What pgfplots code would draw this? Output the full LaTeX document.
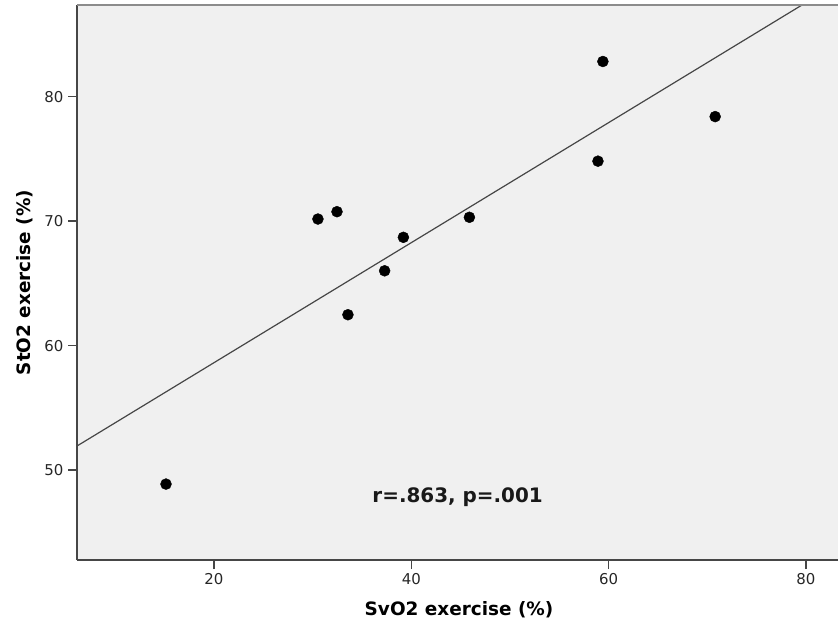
\documentclass[border=0pt]{standalone}
\usepackage{pgfplots}
\pgfplotsset{compat=1.18}
\usepackage{fontspec}
\setmainfont{DejaVu Sans}
\definecolor{plotbg}{RGB}{240,240,240}
\definecolor{axisgray}{RGB}{70,70,70}
\definecolor{topgray}{RGB}{140,140,140}
\begin{document}
\begin{tikzpicture}
  \useasboundingbox (0,0) rectangle (838bp,630bp);
  \begin{axis}[
    at={(77bp,70bp)}, anchor=south west,
    scale only axis,
    width=761bp, height=555bp,
    xmin=6.12, xmax=83.25,
    ymin=42.77, ymax=87.37,
    axis x line*=bottom, axis y line*=left,
    axis line style={axisgray, line width=1.3bp, -},
    axis background/.style={fill=plotbg},
    xtick={20,40,60,80}, ytick={50,60,70,80},
    tick align=outside,
    major tick length=9bp,
    tick style={axisgray, line width=1.3bp},
    /pgf/number format/assume math mode=true,
    tick label style={font=\fontsize{15}{17}\selectfont, text=black!85},
    xticklabel style={yshift=-1bp},
    yticklabel style={xshift=-1bp},
    xlabel={\textbf{SvO2 exercise (\%)}},
    ylabel={\textbf{StO2 exercise (\%)}},
    label style={font=\fontsize{18.5}{20}\selectfont},
    xlabel style={at={(axis description cs:0.502,0)}, anchor=center, yshift=-50bp},
    ylabel style={at={(axis description cs:-0.0683,0.5)}, anchor=center},
  ]
    % measurements
    \addplot[only marks, mark=*, mark size=5.5bp, black] coordinates {
      (15.14,48.87)
      (30.54,70.17)
      (32.47,70.76)
      (33.58,62.48)
      (37.30,66.01)
      (39.20,68.70)
      (45.89,70.31)
      (58.92,74.82)
      (59.42,82.83)
      (70.80,78.40)
    };
    % linear fit
    \addplot[axisgray, line width=1.2bp, no marks] coordinates {
      (6.12,51.93)
      (83.25,89.13)
    };
    \draw[topgray, line width=2bp] (rel axis cs:0,1) -- (rel axis cs:1,1);
    \node[font=\fontsize{20}{22}\selectfont\bfseries, text=black!90]
      at (axis cs:44.7,47.8) {r=.863, p=.001};
  \end{axis}
\end{tikzpicture}
\end{document}
